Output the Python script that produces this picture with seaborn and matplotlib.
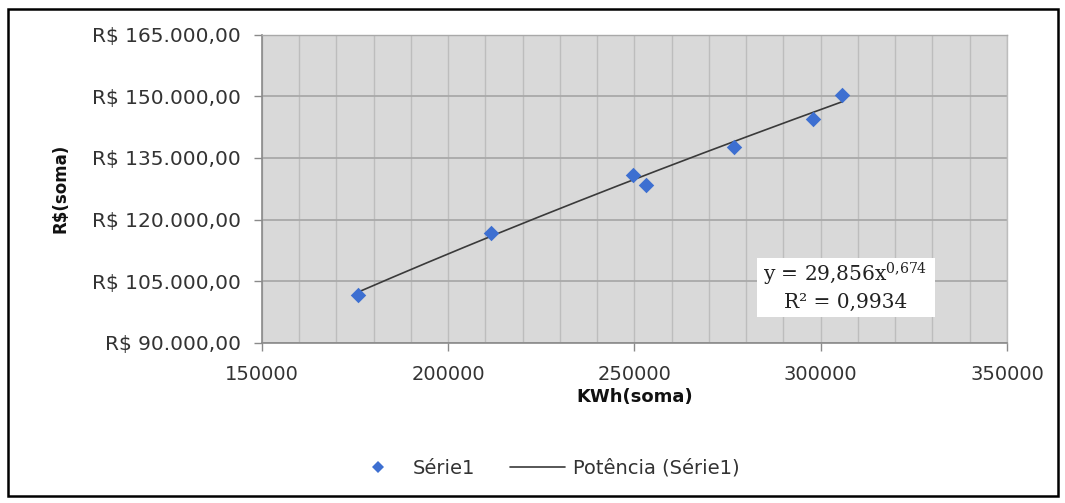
import numpy as np
import pandas as pd
import matplotlib
matplotlib.use("Agg")
import matplotlib.pyplot as plt
from matplotlib.patches import Rectangle
from matplotlib.lines import Line2D
from matplotlib.ticker import MultipleLocator, FixedLocator
import seaborn as sns

# ---- data ----
kwh_soma = [175900, 211600, 249500, 253000, 276700, 297900, 305800]
rs_soma = [101600, 116750, 130950, 128470, 137770, 144540, 150360]

# power trendline coefficients shown on the chart (y = a * x^b)
coef_a = 29.856
coef_b = 0.674
r_squared_label = "R² = 0,9934"
equation_label = r"y = 29,856x$^{0{,}674}$"

x_ticks = [150000, 200000, 250000, 300000, 350000]
x_tick_labels = ["150000", "200000", "250000", "300000", "350000"]
y_ticks = [90000, 105000, 120000, 135000, 150000, 165000]
y_tick_labels = ["R$ 90.000,00", "R$ 105.000,00", "R$ 120.000,00",
                 "R$ 135.000,00", "R$ 150.000,00", "R$ 165.000,00"]

series_name = "Série1"
trend_name = "Potência (Série1)"
x_label = "KWh(soma)"
y_label = "R$(soma)"

# ---- styling ----
sns.set_style("white")
plt.rcParams["font.family"] = ["DejaVu Sans"]
plt.rcParams["mathtext.fontset"] = "dejavuserif"

point_color = "#3d6fd1"
trend_color = "#3a3a3a"
bg_color = "#d9d9d9"
hgrid_color = "#a9a9a9"
vgrid_color = "#bdbdbd"
axis_color = "#8a8a8a"

fig = plt.figure(figsize=(10.65, 5.03), dpi=100)
ax = fig.add_axes([0.246, 0.3181, 0.6995, 0.6133])
ax.set_facecolor(bg_color)

df = pd.DataFrame({"kwh": kwh_soma, "rs": rs_soma})

# trendline over the data range
x_fit = np.linspace(min(kwh_soma), max(kwh_soma), 200)
trend_df = pd.DataFrame({"kwh": x_fit, "rs": coef_a * x_fit ** coef_b})

sns.lineplot(data=trend_df, x="kwh", y="rs", ax=ax, color=trend_color,
             linewidth=1.2, zorder=3, legend=False)
sns.scatterplot(data=df, x="kwh", y="rs", ax=ax, marker="D", s=62,
                color=point_color, edgecolor=point_color, linewidth=0,
                zorder=4, legend=False)

ax.set_xlim(150000, 350000)
ax.set_ylim(90000, 165000)

ax.xaxis.set_major_locator(FixedLocator(x_ticks))
ax.set_xticklabels(x_tick_labels)
ax.xaxis.set_minor_locator(MultipleLocator(10000))
ax.yaxis.set_major_locator(FixedLocator(y_ticks))
ax.set_yticklabels(y_tick_labels)

ax.grid(False)
ax.grid(True, which="minor", axis="x", color=vgrid_color, linewidth=1.0, zorder=1)
ax.grid(True, which="major", axis="x", color=vgrid_color, linewidth=1.0, zorder=1)
ax.grid(True, which="major", axis="y", color=hgrid_color, linewidth=1.3, zorder=1)
ax.set_axisbelow(True)

for side in ["left", "bottom"]:
    ax.spines[side].set_color(axis_color)
    ax.spines[side].set_linewidth(1.2)
for side in ["top", "right"]:
    ax.spines[side].set_color(vgrid_color)
    ax.spines[side].set_linewidth(1.0)
ax.spines["top"].set_color(hgrid_color)

ax.tick_params(axis="x", which="major", direction="out", length=6, width=1,
               color=axis_color, labelsize=14, pad=10, labelcolor="#333333",
               bottom=True)
ax.tick_params(axis="x", which="minor", length=0)
ax.tick_params(axis="y", which="major", direction="out", length=6, width=1,
               color=axis_color, labelsize=14.5, pad=9, labelcolor="#333333",
               left=True)

ax.set_xlabel(x_label, fontsize=13, fontweight="bold", labelpad=3, color="#111111")
ax.set_ylabel(y_label, fontsize=12, fontweight="bold", labelpad=16, color="#111111")

# equation box
ax.add_patch(Rectangle((0.664, 0.084), 0.239, 0.1915, transform=ax.transAxes,
                       facecolor="white", edgecolor="none", zorder=5))
ax.text(0.783, 0.222, equation_label, transform=ax.transAxes, ha="center",
        va="center", fontsize=14.5, family="DejaVu Serif", color="#222222", zorder=6)
ax.text(0.783, 0.133, r_squared_label, transform=ax.transAxes, ha="center",
        va="center", fontsize=14.5, family="DejaVu Serif", color="#222222", zorder=6)

# legend
handles = [
    Line2D([], [], marker="D", linestyle="none", color=point_color,
           markersize=6, markeredgewidth=0),
    Line2D([], [], color=trend_color, linewidth=1.2),
]
fig.legend(handles, [series_name, trend_name], loc="center",
           bbox_to_anchor=(545 / 1065, 1 - 468 / 503), ncol=2, frameon=False,
           fontsize=14, handlelength=2.8, handletextpad=0.4, columnspacing=1.8,
           labelcolor="#333333")

# outer chart border
fig.add_artist(Rectangle((8 / 1065, 1 - 496 / 503), (1058 - 8) / 1065,
                         (496 - 9) / 503, transform=fig.transFigure,
                         facecolor="none", edgecolor="black", linewidth=1.8))

fig.savefig("out.png", dpi=100)
